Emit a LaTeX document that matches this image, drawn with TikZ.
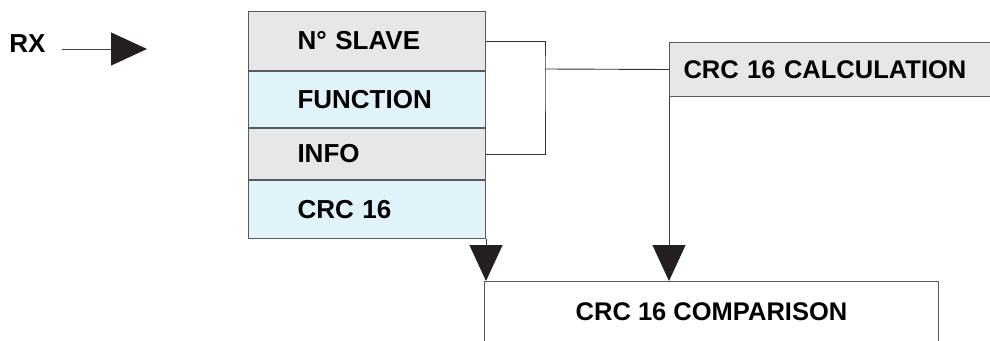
\documentclass[tikz,border=0pt]{standalone}
\usepackage{fontspec}
\setmainfont{Liberation Sans}
\usetikzlibrary{arrows.meta, positioning}
\definecolor{cellgray}{HTML}{E6E7E8}
\definecolor{cellblue}{HTML}{E1F3FA}
\definecolor{edgegray}{HTML}{58595B}
\definecolor{tipblack}{HTML}{231F20}
\tikzset{
  field/.style={rectangle, draw=edgegray, line width=1pt, anchor=north west, minimum width=237pt, text width=139pt, inner xsep=49pt, inner ysep=0pt, align=left, font=\fontsize{26}{30}\selectfont\bfseries},
  box/.style={rectangle, draw=edgegray, line width=1pt, anchor=north west, inner ysep=0pt, font=\fontsize{25.5}{30}\selectfont\bfseries},
  arrow/.style={-{Triangle[length=36pt, width=33pt, color=tipblack]}, draw=black!75, line width=1pt},
  wire/.style={draw=black!80, line width=0.9pt},
}

\begin{document}
\begin{tikzpicture}[x=1pt, y=-1pt]
    \fill[white] (0,0) rectangle (990,340);
    \useasboundingbox (0,0) rectangle (990,340);
    % received frame
    \node[field, fill=cellgray, minimum height=59pt] (slave) at (248,11) {N° SLAVE};
    \node[field, fill=cellblue, minimum height=56pt, below=0pt of slave] (function) {FUNCTION};
    \node[field, fill=cellgray, minimum height=51pt, below=0pt of function] (info) {INFO};
    \node[field, fill=cellblue, minimum height=58pt, below=0pt of info] (crc) {CRC 16};
    \node[box, fill=cellgray, minimum width=340pt, minimum height=54pt, text width=312pt, inner xsep=14pt, align=left] (calc) at (669,42) {CRC 16 CALCULATION};
    \node[box, fill=white, minimum width=454pt, minimum height=60pt, align=center] (compare) at (484,281) {CRC 16 COMPARISON};
    \node[font=\fontsize{26}{30}\selectfont\bfseries] (rx) at (27.5,43.5) {RX};
    \coordinate (rxin) at (62,49);
    \coordinate (rxtip) at (147,49);
    \coordinate (join) at (545,69);
    % connectors
    \draw[arrow] (rxin) -- (rxtip);
    \draw[wire] (slave.east) -| (join) |- (info.east);
    \draw[wire] (join) -- (calc.west);
    \draw[arrow] (crc.south east) -- (crc.south east |- compare.north);
    \draw[arrow] (calc.south west) -- (calc.south west |- compare.north);
\end{tikzpicture}
\end{document}
